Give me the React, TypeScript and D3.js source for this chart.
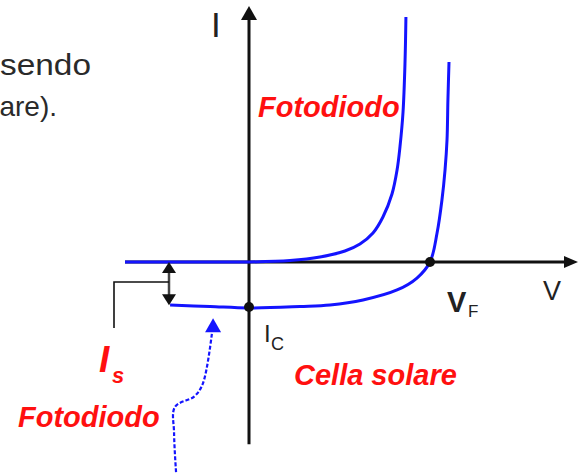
import React from "react";
import * as d3 from "d3";

// Dark characteristic (photodiode, no light): [V, I] in relative units
const darkV = [-0.685, -0.271, 0.0, 0.227, 0.392, 0.530, 0.613, 0.685, 0.74, 0.79, 0.818, 0.834, 0.851, 0.862, 0.867];
const darkI = [0, 0, 0, 0.033, 0.111, 0.244, 0.4, 0.644, 1.0, 1.511, 2.044, 2.556, 3.333, 4.444, 5.444];
// Illuminated characteristic (solar cell)
const lightV = [-0.436, -0.215, 0.0, 0.282, 0.448, 0.63, 0.818, 0.928, 1.0, 1.039, 1.066, 1.083, 1.094, 1.099, 1.105];
const lightI = [-0.956, -0.989, -1.022, -0.989, -0.956, -0.844, -0.622, -0.356, 0, 0.644, 1.378, 2.044, 2.711, 3.6, 4.444];
// Marked points: short-circuit current (Ic) and open-circuit voltage (VF)
const markV = [0, 1.0];
const markI = [-1.0, 0];
// Dashed pointer annotation (data units)
const pointerV = [-0.403, -0.414, -0.409, -0.3, -0.254, -0.204];
const pointerI = [-4.67, -3.8, -3.22, -2.98, -2.69, -1.56];

const W = 579;
const H = 473;

export default function App() {
  const x = d3.scaleLinear().domain([-1, 2]).range([68, 611]);
  const y = d3.scaleLinear().domain([-4, 6]).range([442, -8]);

  const line = d3
    .line<[number, number]>()
    .x((d) => x(d[0]))
    .y((d) => y(d[1]))
    .curve(d3.curveCatmullRom.alpha(0.5));

  const dark: [number, number][] = darkV.map((v, i) => [v, darkI[i]]);
  const light: [number, number][] = lightV.map((v, i) => [v, lightI[i]]);
  const pointer: [number, number][] = pointerV.map((v, i) => [v, pointerI[i]]);

  const blue = "#1414ff";
  const red = "#ff1010";
  const font = "'Liberation Sans', Arial, sans-serif";

  const x0 = x(0);
  const y0 = y(0);
  const ax = x(-0.442); // Is arrow
  const yIs = y(-0.96);

  // pointer arrowhead
  const pEnd = pointer[pointer.length - 1];
  const tipX = x(pEnd[0]) + 1;
  const tipY = y(pEnd[1]) - 14;

  return (
    <svg
      width={W}
      height={H}
      style={{ position: "absolute", left: 0, top: 0, background: "#fff" }}
    >
      <rect x={0} y={0} width={W} height={H} fill="#fff" />
      {/* left text fragment */}
      <text x={0} y={75} fontFamily={font} fontSize={29} fill="#2a2a2a" textLength={91} lengthAdjust="spacingAndGlyphs">
        sendo
      </text>
      <text x={57} y={116} textAnchor="end" fontFamily={font} fontSize={28} fill="#2a2a2a">
        are).
      </text>

      {/* axes */}
      <line x1={x0} y1={y(-4.05)} x2={x0} y2={18} stroke="#111" strokeWidth={3} />
      <path d={`M${x0 - 8},${20} L${x0},${6} L${x0 + 8},${20} Z`} fill="#111" />
      <line x1={x(-0.685)} y1={y0} x2={566} y2={y0} stroke="#111" strokeWidth={3} />
      <path d={`M${564},${y0 - 6} L${578},${y0} L${564},${y0 + 6} Z`} fill="#111" />

      {/* curves */}
      <path d={line(dark) || ""} fill="none" stroke={blue} strokeWidth={3} />
      <path d={line(light) || ""} fill="none" stroke={blue} strokeWidth={3} />

      {/* marked points */}
      {markV.map((v, i) => (
        <circle key={i} cx={x(v)} cy={y(markI[i])} r={5} fill="#111" />
      ))}

      {/* Is double arrow */}
      <line x1={ax} y1={y0 + 8} x2={ax} y2={yIs - 8} stroke="#444" strokeWidth={2.5} />
      <path d={`M${ax - 7},${y0 + 11} L${ax},${y0} L${ax + 7},${y0 + 11} Z`} fill="#111" />
      <path d={`M${ax - 7},${yIs - 11} L${ax},${yIs} L${ax + 7},${yIs - 11} Z`} fill="#111" />
      {/* bracket */}
      <path
        d={`M${114},${328} L${114},${282} L${ax},${282}`}
        fill="none"
        stroke="#111"
        strokeWidth={1.6}
      />

      {/* dashed pointer */}
      <path
        d={line(pointer) || ""}
        fill="none"
        stroke={blue}
        strokeWidth={2.2}
        strokeDasharray="4 2"
      />
      <path
        d={`M${tipX - 8},${tipY + 14} L${tipX},${tipY} L${tipX + 8},${tipY + 14} Z`}
        fill={blue}
      />

      {/* labels */}
      <text x={211} y={37} fontFamily={font} fontSize={35} fill="#222">
        I
      </text>
      <text x={258} y={117} fontFamily={font} fontSize={29} fontWeight="bold" fontStyle="italic" fill={red}>
        Fotodiodo
      </text>
      <text x={543} y={300} fontFamily={font} fontSize={27} fill="#222">
        V
      </text>
      <text x={447} y={312} fontFamily={font} fontSize={29} fontWeight="bold" fill="#222">
        V
      </text>
      <text x={468} y={317} fontFamily={font} fontSize={17} fill="#222">
        F
      </text>
      <text x={264} y={342} fontFamily={font} fontSize={24} fill="#222">
        I
      </text>
      <text x={271} y={350} fontFamily={font} fontSize={18} fill="#222">
        C
      </text>
      <text x={99} y={372} fontFamily={font} fontSize={37} fontWeight="bold" fontStyle="italic" fill={red}>
        I
      </text>
      <text x={112} y={383} fontFamily={font} fontSize={22} fontWeight="bold" fontStyle="italic" fill={red}>
        s
      </text>
      <text x={18} y={427} fontFamily={font} fontSize={29} fontWeight="bold" fontStyle="italic" fill={red}>
        Fotodiodo
      </text>
      <text x={294} y={385} fontFamily={font} fontSize={29} fontWeight="bold" fontStyle="italic" fill={red}>
        Cella solare
      </text>
    </svg>
  );
}
